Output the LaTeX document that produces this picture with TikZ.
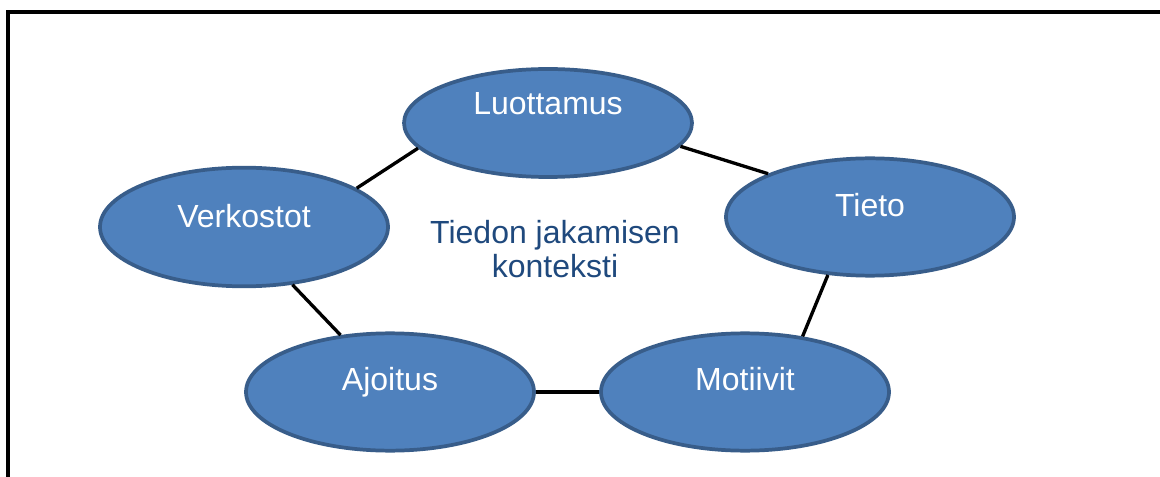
\documentclass[tikz,border=0pt]{standalone}
\usepackage{fontspec}
\setmainfont{Liberation Sans}
\usetikzlibrary{shapes.geometric}
\definecolor{bubblefill}{HTML}{4F81BD}
\definecolor{bubbleedge}{HTML}{385D8A}
\definecolor{ctxblue}{HTML}{1F497D}

\begin{document}
\begin{tikzpicture}[x = 0.75pt, y = -0.75pt,
	bubble/.style = {ellipse, draw = bubbleedge, fill = bubblefill, line width = 2.8pt, minimum width = 216pt, inner sep = 0pt},
	bubbletext/.style = {anchor = base, text = white, font = \fontsize{24}{28}\selectfont},
	link/.style = {line width = 2.5pt}]
	\useasboundingbox (0,0) rectangle (1160,477);
	\draw[line width = 2.6pt] (8,477) -- (8,12) -- (1160,12);
	% the five bubbles: name/x/y/height/baseline/text
	\foreach \nm/\x/\y/\h/\b/\txt in {luottamus/548/123/81/115/Luottamus, tieto/870/217/88/217/Tieto, motiivit/745/392/88/390/Motiivit, ajoitus/390/392/88/390/Ajoitus, verkostot/244/227/89/228/Verkostot} {
		\node[bubble, minimum height = \h pt] (\nm) at (\x,\y) {};
		\node[bubbletext] (\nm-text) at (\x,\b) {\txt};
	}
	\node[align = center, text = ctxblue, font = \fontsize{24}{25.5}\selectfont] (context) at (555,249) {Tiedon jakamisen\\konteksti};
	\foreach \a/\e in {luottamus.350/tieto.157, tieto.234/motiivit.44, motiivit.180/ajoitus.0, ajoitus.131/verkostot.310, verkostot.19/luottamus.191} {
		\draw[link] (\a) -- (\e);
	}
\end{tikzpicture}
\end{document}
